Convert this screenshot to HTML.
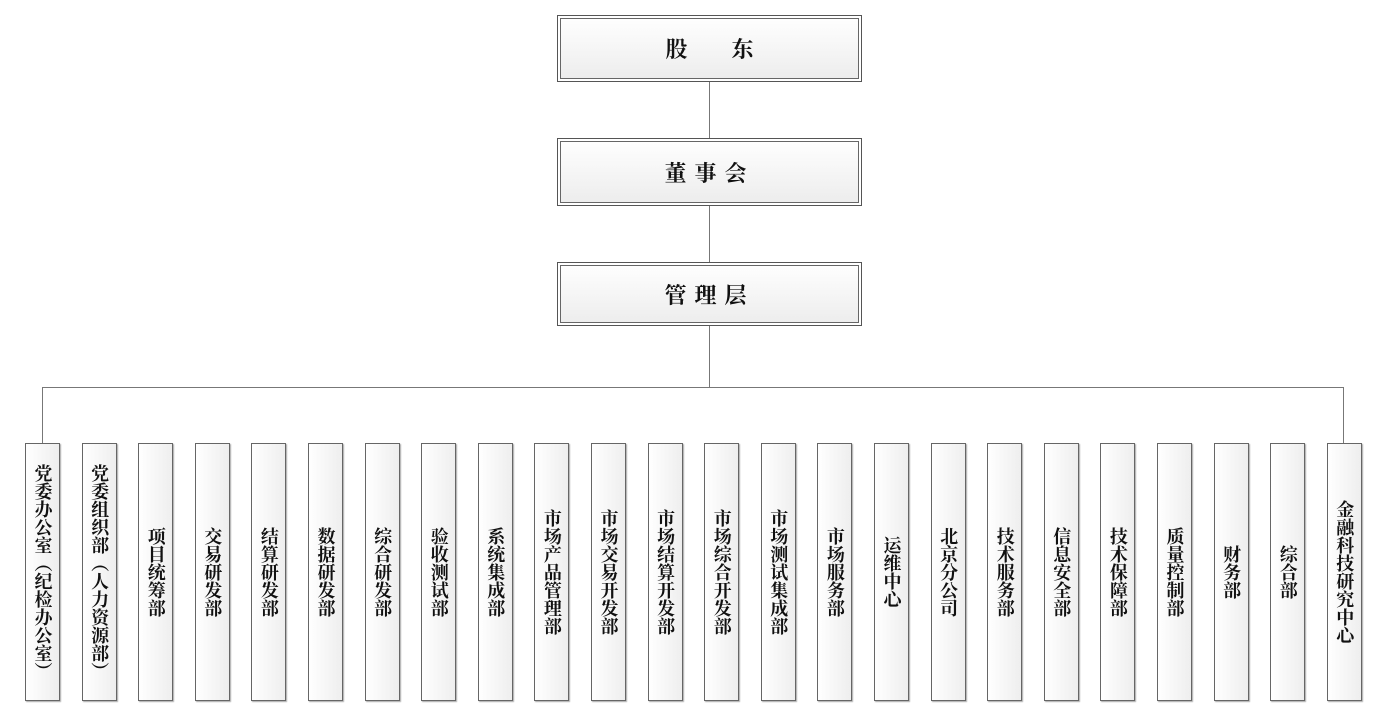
<!DOCTYPE html>
<html><head><meta charset="utf-8"><style>
body{margin:0;width:1381px;height:704px;background:#fff;position:relative;overflow:hidden;font-family:"Liberation Serif","Noto Serif CJK SC",serif;}
.t{position:absolute;left:557px;width:299px;border:1px solid #555;box-shadow:inset 0 0 0 2px #fff,inset 0 0 0 3px #666;background:linear-gradient(#fff,#ececec);display:flex;align-items:center;justify-content:center;font-size:22px;font-weight:bold;color:#111;box-sizing:border-box;width:305px;}
.b{position:absolute;top:443px;width:35px;height:258px;border:1px solid #666;box-sizing:border-box;background:linear-gradient(90deg,#fff,#eee);display:flex;align-items:center;justify-content:center;box-shadow:1px 1px 1px #aaa;}
.b span{writing-mode:vertical-rl;font-size:18px;font-weight:bold;line-height:18px;color:#111;text-orientation:upright;}
.l{position:absolute;background:#777;}
</style></head><body>
<div class="l" style="left:709px;top:81px;width:1px;height:306px"></div>
<div class="l" style="left:42px;top:387px;width:1302px;height:1px"></div>
<div class="l" style="left:42px;top:387px;width:1px;height:56px"></div>
<div class="l" style="left:1343px;top:387px;width:1px;height:56px"></div>
<div class="t" style="top:15px;height:67px">股&emsp;&emsp;东</div>
<div class="t" style="top:138px;height:68px;letter-spacing:8px">董事会</div>
<div class="t" style="top:262px;height:64px;letter-spacing:8px">管理层</div>
<div id="c"></div>
<script>
var n=["党委办公室（纪检办公室）","党委组织部（人力资源部）","项目统筹部","交易研发部","结算研发部","数据研发部","综合研发部","验收测试部","系统集成部","市场产品管理部","市场交易开发部","市场结算开发部","市场综合开发部","市场测试集成部","市场服务部","运维中心","北京分公司","技术服务部","信息安全部","技术保障部","质量控制部","财务部","综合部","金融科技研究中心"];
var h="";n.forEach(function(s,i){h+='<div class="b" style="left:'+(25+i*56.6)+'px"><span>'+s+'</span></div>';});
document.getElementById("c").innerHTML=h;
</script>
</body></html>
